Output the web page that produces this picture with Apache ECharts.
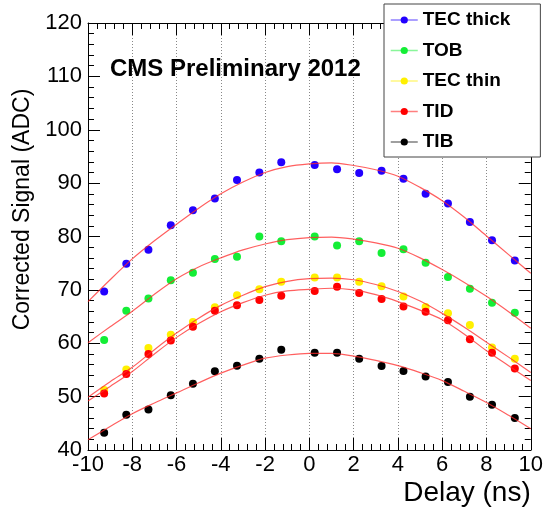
<!DOCTYPE html>
<html>
<head>
<meta charset="utf-8">
<script src="https://cdn.jsdelivr.net/npm/echarts@6/dist/echarts.min.js"></script>
<style>
  html, body { margin: 0; padding: 0; background: #fff; }
  #chart { width: 546px; height: 516px; }
</style>
</head>
<body>
<div id="chart"></div>
<script>
// ---- data ----
const delay = [-9.27, -8.27, -7.27, -6.26, -5.26, -4.27, -3.27, -2.26, -1.27, 0.24, 1.25, 2.25, 3.26, 4.25, 5.25, 6.26, 7.25, 8.25, 9.28];
const tecThick = [69.7, 74.9, 77.5, 82.1, 84.9, 87.1, 90.6, 92.0, 93.9, 93.4, 92.6, 91.9, 92.3, 90.8, 88.0, 86.2, 82.7, 79.3, 75.5];
const tob      = [60.6, 66.1, 68.4, 71.8, 73.2, 75.8, 76.2, 80.0, 79.1, 80.0, 78.3, 79.1, 76.9, 77.6, 75.1, 72.4, 70.2, 67.6, 65.7];
const tecThin  = [51.25, 55.1, 59.1, 61.6, 64.0, 66.75, 69.0, 70.1, 71.5, 72.3, 72.3, 71.5, 70.7, 68.75, 66.8, 65.6, 63.4, 59.2, 57.1];
const tid      = [50.6, 54.25, 58.0, 60.5, 63.1, 66.1, 67.1, 68.1, 68.9, 69.8, 70.6, 69.4, 68.3, 66.9, 65.9, 64.3, 60.75, 58.2, 55.25];
const tib      = [43.25, 46.6, 47.6, 50.25, 52.4, 54.75, 55.8, 57.1, 58.8, 58.2, 58.2, 57.1, 55.75, 54.8, 53.75, 52.75, 50.0, 48.5, 46.0];

// fitted curves at every 1 ns
const fitDelay    = [-10, -9, -8, -7, -6, -5, -4, -3, -2, -1, 0, 1, 2, 3, 4, 5, 6, 7, 8, 9, 10];
const fitTecThick = [67.8, 71.9, 75.8, 79.2, 82.3, 85.3, 88.0, 90.2, 92.0, 93.1, 93.6, 93.8, 93.3, 92.5, 91.3, 89.2, 86.7, 83.6, 80.1, 76.6, 73.1];
const fitTob      = [60.1, 63.1, 66.0, 69.2, 72.1, 74.3, 76.0, 77.5, 78.6, 79.4, 79.8, 79.9, 79.5, 78.8, 77.8, 76.0, 73.8, 71.4, 68.8, 65.9, 62.8];
const fitTecThin  = [49.9, 52.8, 55.5, 58.8, 61.9, 64.7, 67.1, 69.0, 70.6, 71.6, 72.1, 72.2, 71.9, 71.0, 69.7, 67.9, 65.6, 63.0, 60.2, 57.4, 54.5];
const fitTid      = [49.2, 51.9, 54.7, 58.0, 61.1, 63.7, 65.9, 67.6, 69.0, 69.8, 70.1, 70.3, 70.0, 69.1, 67.8, 66.2, 64.4, 61.7, 58.6, 55.8, 53.0];
const fitTib      = [41.9, 44.4, 46.8, 48.8, 50.7, 52.6, 54.4, 55.9, 57.2, 57.8, 58.1, 58.1, 57.6, 56.8, 55.8, 54.5, 53.0, 51.0, 48.9, 46.5, 44.0];

const seriesNames = ['TEC thick', 'TOB', 'TEC thin', 'TID', 'TIB'];
const pointSets = [tecThick, tob, tecThin, tid, tib];
const fitSets = [fitTecThick, fitTob, fitTecThin, fitTid, fitTib];
const colors = ['#2200ff', '#14ee36', '#fff000', '#ff0000', '#000000'];

const xTicks = { min: -10, max: 10, interval: 2 };
const yTicks = { min: 40, max: 120, interval: 10 };

// ---- chart ----
const FONT = '"Liberation Sans", Arial, Helvetica, sans-serif';
const pair = (xs, ys) => xs.map((x, i) => [x, ys[i]]);

const tickCommon = {
  axisLine: { show: true, onZero: false, lineStyle: { color: '#000', width: 1 } },
  axisTick: { show: true, inside: true, length: 12, lineStyle: { color: '#000', width: 1 } },
  minorTick: { show: true, splitNumber: 5, length: 6, lineStyle: { color: '#000', width: 1 } },
};

const series = [];
seriesNames.forEach((name, k) => {
  series.push({
    name: name,
    type: 'line',
    data: pair(delay, pointSets[k]),
    symbol: 'circle',
    symbolSize: 8,
    showSymbol: true,
    lineStyle: { width: 0, opacity: 0 },
    itemStyle: { color: colors[k] },
    z: 3,
    silent: true
  });
});
fitSets.forEach((fit, k) => {
  series.push({
    name: 'fit ' + seriesNames[k],
    type: 'line',
    data: pair(fitDelay, fit),
    smooth: 0.3,
    showSymbol: false,
    symbol: 'none',
    lineStyle: { color: '#ff2a2a', width: 1.2, opacity: 0.75 },
    itemStyle: { color: '#ff2a2a' },
    z: 4,
    silent: true
  });
});

const chart = echarts.init(document.getElementById('chart'), null, { renderer: 'canvas' });
chart.setOption({
  animation: false,
  backgroundColor: '#fff',
  title: {
    text: 'CMS Preliminary 2012',
    left: 110, top: 57, padding: 0,
    textStyle: { fontSize: 24, fontWeight: 'bold', fontFamily: FONT, color: '#000' }
  },
  legend: {
    data: seriesNames,
    orient: 'vertical',
    left: 384, top: 4,
    padding: [6, 30, 5, 6],
    itemWidth: 27, itemHeight: 9, itemGap: 10.5,
    backgroundColor: '#fff',
    borderColor: '#444', borderWidth: 1,
    textStyle: { fontSize: 19, fontWeight: 'bold', fontFamily: FONT, color: '#000', lineHeight: 20 },
    lineStyle: { width: 1.5, opacity: 0.5 },
    selectedMode: false,
    z: 10
  },
  grid: { left: 88, right: 15, top: 23, bottom: 66, containLabel: false },
  xAxis: [
    Object.assign({
      type: 'value', position: 'bottom',
      min: xTicks.min, max: xTicks.max, interval: xTicks.interval,
      axisLabel: { fontSize: 22, color: '#000', fontFamily: FONT, margin: 4 },
      splitLine: { show: true, lineStyle: { type: [1, 2], color: '#888', width: 1 } },
      name: 'Delay (ns)', nameLocation: 'end', nameGap: 0,
      nameTextStyle: { fontSize: 28, fontFamily: FONT, color: '#000', align: 'right', verticalAlign: 'top', padding: [29, 0, 0, 0] }
    }, tickCommon),
    Object.assign({
      type: 'value', position: 'top',
      min: xTicks.min, max: xTicks.max, interval: xTicks.interval,
      axisLabel: { show: false }, splitLine: { show: false }
    }, tickCommon)
  ],
  yAxis: [
    Object.assign({
      type: 'value', position: 'left',
      min: yTicks.min, max: yTicks.max, interval: yTicks.interval,
      axisLabel: { fontSize: 22, color: '#000', fontFamily: FONT, margin: 6 },
      splitLine: { show: false },
      name: 'Corrected Signal (ADC)', nameLocation: 'middle', nameRotate: 90, nameGap: 54,
      nameTextStyle: { fontSize: 23, fontFamily: FONT, color: '#000', padding: [0, 0, 0, 54] }
    }, tickCommon),
    Object.assign({
      type: 'value', position: 'right',
      min: yTicks.min, max: yTicks.max, interval: yTicks.interval,
      axisLabel: { show: false }, splitLine: { show: false }
    }, tickCommon)
  ],
  series: series
});
</script>
</body>
</html>
